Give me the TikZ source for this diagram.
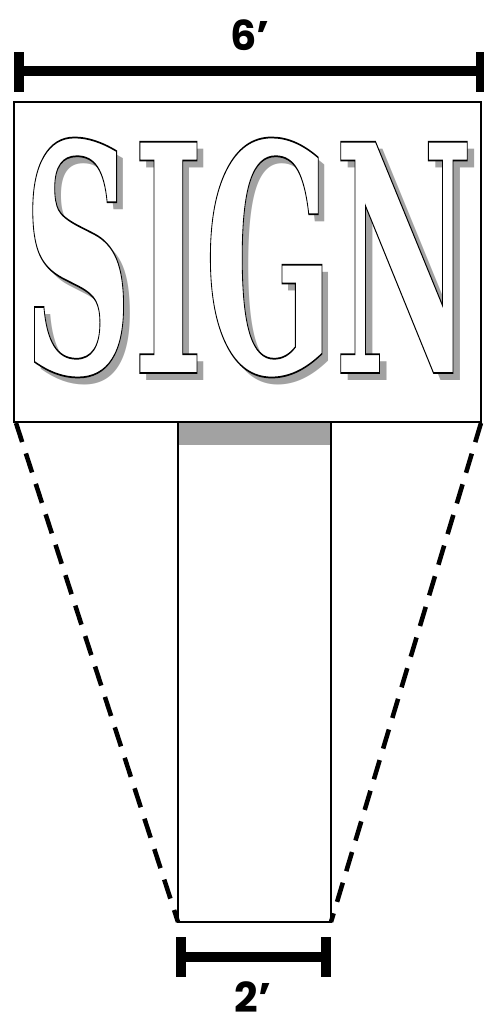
\documentclass[tikz,border=0pt]{standalone}
\usepackage{fontspec}
\newfontfamily\dimfont{Poppins}
\newfontfamily\signfont{DejaVu Serif}
\newcommand{\outlined}[1]{\special{pdf:code q 2 Tr 1.3 w 0 G 1 g}#1\special{pdf:code Q}}
\definecolor{shadowgray}{HTML}{A2A2A2}
\begin{document}
\begin{tikzpicture}[x=0.75pt,y=-0.75pt,
  dimline/.style={line width=7pt},
  dimtick/.style={line width=7.5pt},
  guide/.style={line width=3.4pt, dash pattern=on 15pt off 9pt},
  thinline/.style={line width=0.8pt},
  board/.style={line width=1.1pt},
  dimtext/.style={font=\dimfont\bfseries\fontsize{31}{31}\selectfont, inner sep=0pt},
  signtext/.style={font=\signfont\bfseries\fontsize{238}{238}\selectfont, inner sep=0pt, anchor=base, xscale=0.48}]
\useasboundingbox (0,0) rectangle (483,1026);
% top dimension
\coordinate (tl) at (19,71);
\coordinate (tr) at (481,71);
\draw[dimline] (tl) -- (tr);
\draw[dimtick] (19,52) -- (19,92);
\draw[dimtick] (481,52) -- (481,92);
\node[dimtext, anchor=base] (six) at (250,50) {6’};
% post
\fill[shadowgray] (178,423) rectangle (331,445);
\coordinate (pl) at (178,922);
\coordinate (pr) at (331,922);
\draw[thinline] (178,423) -- (pl) -- (pr) -- (331,423);
% board
\draw[board] (14,102) rectangle (481,422);
\coordinate (bl) at (16,423);
\coordinate (br) at (481,423);
% dashed guides
\draw[guide] (bl) -- (pl);
\draw[guide] (br) -- (pr);
% letters
\node[signtext, text=shadowgray] (shadow) at (255,380) {SIGN};
\node[signtext] (sign) at (248,373) {\outlined{SIGN}};
% bottom dimension
\coordinate (dl) at (181,957);
\coordinate (dr) at (326,957);
\draw[dimline] (dl) -- (dr);
\draw[dimtick] (181,937) -- (181,977);
\draw[dimtick] (326,937) -- (326,977);
\node[dimtext, anchor=base] (two) at (253,1012) {2’};
\end{tikzpicture}
\end{document}
